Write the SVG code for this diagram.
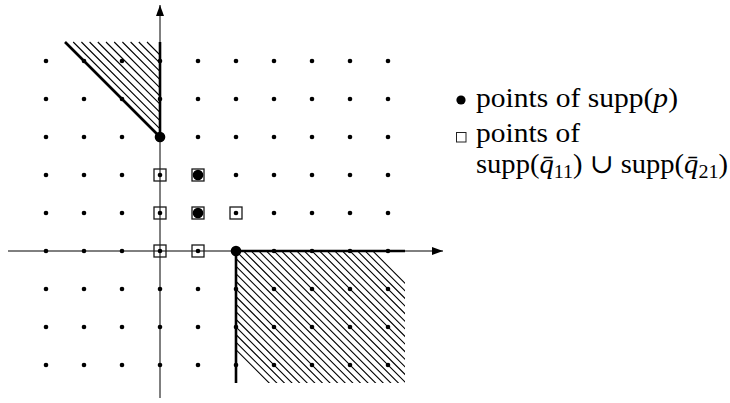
<svg xmlns="http://www.w3.org/2000/svg" width="730" height="403" viewBox="0 0 730 403">
<defs>
<style>
.dot{fill:#000}
.big{fill:#000}
.sq{fill:none;stroke:#1a1a1a;stroke-width:1.3}
.axis{stroke:#000;stroke-width:1;fill:none}
.thick{stroke:#000;stroke-width:2.6;fill:none}
.hatch{stroke:#000;stroke-width:1.1;fill:none}
.txt{font-family:"Liberation Serif","DejaVu Serif",serif;font-size:27px;fill:#000}
.it{font-style:italic}
.sub{font-size:19px}
</style>
<clipPath id="clip-br"><rect x="236" y="251" width="169" height="132"/></clipPath>
<marker id="arr" markerWidth="12" markerHeight="10" refX="11" refY="4" orient="auto" markerUnits="userSpaceOnUse">
<path d="M0,0 L11,4 L0,8 Z" fill="#000"/>
</marker>
</defs>

<g id="region-top-left">
<path class="hatch" d="M73.2,42 L160,128.8 M81.4,42 L160,120.6 M89.6,42 L160,112.4 M97.8,42 L160,104.2 M106,42 L160,96 M114.2,42 L160,87.8 M122.4,42 L160,79.6 M130.6,42 L160,71.4 M138.8,42 L160,63.2 M147,42 L160,55"/>
</g>

<g id="region-bottom-right">
<path class="hatch" clip-path="url(#clip-br)" d="M230,108.2 L410,288.2 M230,115.8 L410,295.8 M230,123.4 L410,303.4 M230,131 L410,311 M230,138.6 L410,318.6 M230,146.2 L410,326.2 M230,153.8 L410,333.8 M230,161.4 L410,341.4 M230,169 L410,349 M230,176.6 L410,356.6 M230,184.2 L410,364.2 M230,191.8 L410,371.8 M230,199.4 L410,379.4 M230,207 L410,387 M230,214.6 L410,394.6 M230,222.2 L410,402.2 M230,229.8 L410,409.8 M230,237.4 L410,417.4 M230,245 L410,425 M230,252.6 L410,432.6 M230,260.2 L410,440.2 M230,267.8 L410,447.8 M230,275.4 L410,455.4 M230,283 L410,463 M230,290.6 L410,470.6 M230,298.2 L410,478.2 M230,305.8 L410,485.8 M230,313.4 L410,493.4 M230,321 L410,501 M230,328.6 L410,508.6 M230,336.2 L410,516.2 M230,343.8 L410,523.8"/>
</g>

<g id="connectors">
<line class="axis" x1="8" y1="251" x2="443" y2="251" marker-end="url(#arr)"/>
<line class="axis" x1="160" y1="398" x2="160" y2="5" marker-end="url(#arr)"/>
<line class="thick" x1="160" y1="137" x2="160" y2="42"/>
<line class="thick" x1="160" y1="137" x2="65" y2="42"/>
<line class="thick" x1="236" y1="251" x2="405" y2="251"/>
<line class="thick" x1="236" y1="251" x2="236" y2="383"/>
</g>

<g id="grid-points">
<g class="dot">
<circle cx="46" cy="61" r="2.3"/><circle cx="84" cy="61" r="2.3"/><circle cx="122" cy="61" r="2.3"/><circle cx="160" cy="61" r="2.3"/><circle cx="198" cy="61" r="2.3"/><circle cx="236" cy="61" r="2.3"/><circle cx="274" cy="61" r="2.3"/><circle cx="312" cy="61" r="2.3"/><circle cx="350" cy="61" r="2.3"/><circle cx="388" cy="61" r="2.3"/>
<circle cx="46" cy="99" r="2.3"/><circle cx="84" cy="99" r="2.3"/><circle cx="122" cy="99" r="2.3"/><circle cx="160" cy="99" r="2.3"/><circle cx="198" cy="99" r="2.3"/><circle cx="236" cy="99" r="2.3"/><circle cx="274" cy="99" r="2.3"/><circle cx="312" cy="99" r="2.3"/><circle cx="350" cy="99" r="2.3"/><circle cx="388" cy="99" r="2.3"/>
<circle cx="46" cy="137" r="2.3"/><circle cx="84" cy="137" r="2.3"/><circle cx="122" cy="137" r="2.3"/><circle cx="198" cy="137" r="2.3"/><circle cx="236" cy="137" r="2.3"/><circle cx="274" cy="137" r="2.3"/><circle cx="312" cy="137" r="2.3"/><circle cx="350" cy="137" r="2.3"/><circle cx="388" cy="137" r="2.3"/>
<circle cx="46" cy="175" r="2.3"/><circle cx="84" cy="175" r="2.3"/><circle cx="122" cy="175" r="2.3"/><circle cx="160" cy="175" r="2.3"/><circle cx="236" cy="175" r="2.3"/><circle cx="274" cy="175" r="2.3"/><circle cx="312" cy="175" r="2.3"/><circle cx="350" cy="175" r="2.3"/><circle cx="388" cy="175" r="2.3"/>
<circle cx="46" cy="213" r="2.3"/><circle cx="84" cy="213" r="2.3"/><circle cx="122" cy="213" r="2.3"/><circle cx="160" cy="213" r="2.3"/><circle cx="236" cy="213" r="2.3"/><circle cx="274" cy="213" r="2.3"/><circle cx="312" cy="213" r="2.3"/><circle cx="350" cy="213" r="2.3"/><circle cx="388" cy="213" r="2.3"/>
<circle cx="46" cy="251" r="2.3"/><circle cx="84" cy="251" r="2.3"/><circle cx="122" cy="251" r="2.3"/><circle cx="160" cy="251" r="2.3"/><circle cx="198" cy="251" r="2.3"/><circle cx="274" cy="251" r="2.3"/><circle cx="312" cy="251" r="2.3"/><circle cx="350" cy="251" r="2.3"/><circle cx="388" cy="251" r="2.3"/>
<circle cx="46" cy="289" r="2.3"/><circle cx="84" cy="289" r="2.3"/><circle cx="122" cy="289" r="2.3"/><circle cx="160" cy="289" r="2.3"/><circle cx="198" cy="289" r="2.3"/><circle cx="236" cy="289" r="2.3"/><circle cx="274" cy="289" r="2.3"/><circle cx="312" cy="289" r="2.3"/><circle cx="350" cy="289" r="2.3"/><circle cx="388" cy="289" r="2.3"/>
<circle cx="46" cy="327" r="2.3"/><circle cx="84" cy="327" r="2.3"/><circle cx="122" cy="327" r="2.3"/><circle cx="160" cy="327" r="2.3"/><circle cx="198" cy="327" r="2.3"/><circle cx="236" cy="327" r="2.3"/><circle cx="274" cy="327" r="2.3"/><circle cx="312" cy="327" r="2.3"/><circle cx="350" cy="327" r="2.3"/><circle cx="388" cy="327" r="2.3"/>
<circle cx="46" cy="365" r="2.3"/><circle cx="84" cy="365" r="2.3"/><circle cx="122" cy="365" r="2.3"/><circle cx="160" cy="365" r="2.3"/><circle cx="198" cy="365" r="2.3"/><circle cx="236" cy="365" r="2.3"/><circle cx="274" cy="365" r="2.3"/><circle cx="312" cy="365" r="2.3"/><circle cx="350" cy="365" r="2.3"/><circle cx="388" cy="365" r="2.3"/>
</g>
</g>

<g id="supp-q-squares">
<rect class="sq" x="154" y="245" width="12" height="12"/>
<rect class="sq" x="192" y="245" width="12" height="12"/>
<rect class="sq" x="154" y="207" width="12" height="12"/>
<rect class="sq" x="192" y="207" width="12" height="12"/>
<rect class="sq" x="230" y="207" width="12" height="12"/>
<rect class="sq" x="154" y="169" width="12" height="12"/>
<rect class="sq" x="192" y="169" width="12" height="12"/>
</g>

<g id="supp-p-points">
<circle class="big" cx="160" cy="137" r="5.3"/>
<circle class="big" cx="236" cy="251" r="5.3"/>
<circle class="big" cx="198" cy="213" r="5.3"/>
<circle class="big" cx="198" cy="175" r="5.3"/>
</g>

<g id="legend">
<circle cx="461" cy="100" r="4.6" fill="#000"/>
<text class="txt" x="476" y="107" textLength="202" lengthAdjust="spacingAndGlyphs">points of supp(<tspan class="it">p</tspan>)</text>
<rect x="456.5" y="132.5" width="9.5" height="9.5" fill="none" stroke="#222" stroke-width="1"/>
<text class="txt" x="476" y="142" textLength="104" lengthAdjust="spacingAndGlyphs">points of</text>
<text class="txt" x="476" y="173" textLength="252" lengthAdjust="spacingAndGlyphs">supp(<tspan class="it">q̄</tspan><tspan class="sub" dy="5">11</tspan><tspan dy="-5">) ∪ supp(</tspan><tspan class="it">q̄</tspan><tspan class="sub" dy="5">21</tspan><tspan dy="-5">)</tspan></text>
</g>
</svg>
